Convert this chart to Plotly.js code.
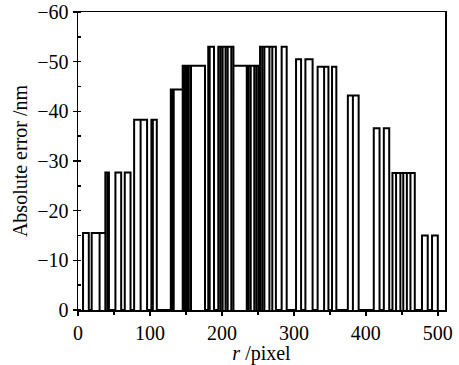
<!DOCTYPE html>
<html>
<head>
<meta charset="utf-8">
<script src="https://cdn.plot.ly/plotly-3.0.1.min.js"></script>
<style>html,body{margin:0;padding:0;background:#fff;}#chart{width:459px;height:365px;}</style>
</head>
<body>
<div id="chart"></div>
<script>
// Pulse segments: start r, end r, absolute error (nm)
const pulseStart = [7,19,30,38,41,52,65,78,87,102,104,129,131,133,145.5,147.5,150,152,154,157,181,183,195,198,201,205,208,213,216,234.5,237,240,245,248,251,253,256,259,266,270,283,303,316,333,342,353,375,382,411,425,437,442,448,452,457,462,478,492];
const pulseEnd   = [15,30,38,41,43,60,73,87,96,104,109.5,131,133,145.5,147.5,150,152,154,157,176.5,183,189,198,201,205,208,213,216,234.5,237,240,245,248,251,253,256,259,266,270,275,290,310,326,342,348,359,382,390,419,432.5,442,448,452,457,462,468,486,500];
const pulseValue = [-15.5,-15.5,-15.5,-27.7,-27.7,-27.7,-27.7,-38.3,-38.3,-38.3,-38.3,-44.4,-44.4,-44.4,-49.2,-49.2,-49.2,-49.2,-49.2,-49.2,-53,-53,-53,-53,-53,-53,-53,-53,-49.2,-49.2,-49.2,-49.2,-49.2,-49.2,-49.2,-53,-53,-53,-53,-53,-53,-50.5,-50.5,-49,-49,-49,-43.2,-43.2,-36.6,-36.6,-27.6,-27.6,-27.6,-27.6,-27.6,-27.6,-15,-15];

const xTickVals = [0,100,200,300,400,500];
const xTickText = ['0','100','200','300','400','500'];
const yTickVals = [-60,-50,-40,-30,-20,-10,0];
const yTickText = ['\u221260','\u221250','\u221240','\u221230','\u221220','\u221210','0'];

const xs = [], ys = [];
for (let i = 0; i < pulseStart.length; i++) {
  xs.push(pulseStart[i], pulseStart[i], pulseEnd[i], pulseEnd[i]);
  ys.push(0, pulseValue[i], pulseValue[i], 0);
}

const font = {family: 'Liberation Serif, Times New Roman, serif', size: 20, color: '#000'};

const trace = {
  x: xs, y: ys, mode: 'lines', type: 'scatter',
  line: {color: '#000', width: 2}, hoverinfo: 'skip'
};

const layout = {
  width: 459, height: 365,
  margin: {l: 78, r: 14, t: 12, b: 55},
  paper_bgcolor: '#fff', plot_bgcolor: '#fff',
  showlegend: false,
  font: font,
  xaxis: {
    range: [0, 510], showgrid: false, zeroline: false,
    showline: true, mirror: true, linecolor: '#000', linewidth: 1.5,
    tickmode: 'array', tickvals: xTickVals, ticktext: xTickText,
    ticks: 'outside', ticklen: 4, tickwidth: 1.5, tickcolor: '#000',
    minor: {dtick: 50, ticks: 'outside', ticklen: 3, tickwidth: 1.5, tickcolor: '#000'},
    tickfont: font,
    title: {text: '<i>r</i> /pixel', font: font, standoff: 0}
  },
  yaxis: {
    range: [0, -60], showgrid: false, zeroline: false,
    showline: true, mirror: true, linecolor: '#000', linewidth: 1.5,
    tickmode: 'array', tickvals: yTickVals, ticktext: yTickText,
    ticks: 'outside', ticklen: 4, tickwidth: 1.5, tickcolor: '#000',
    minor: {dtick: 5, ticks: 'inside', ticklen: 3, tickwidth: 1.5, tickcolor: '#000'},
    tickfont: font,
    title: {text: 'Absolute error /nm', font: font, standoff: 4}
  }
};

Plotly.newPlot('chart', [trace], layout, {staticPlot: true, displayModeBar: false});
</script>
</body>
</html>
